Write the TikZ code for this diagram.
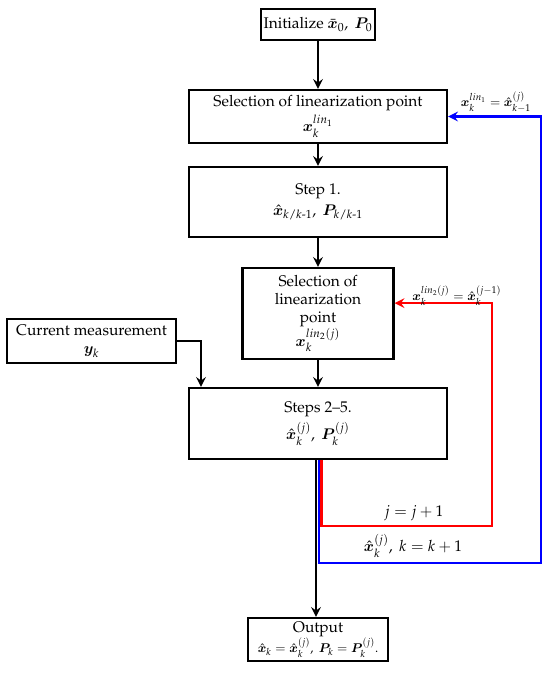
\documentclass[tikz,border=0pt]{standalone}
\usepackage[T1]{fontenc}
\usepackage{amsmath,bm}
\usepackage{mathpazo}
\usepackage{tikz}
\usetikzlibrary{arrows.meta,calc}

\begin{document}
\begin{tikzpicture}[x=0.025cm,y=-0.025cm,>={Stealth[length=7pt,width=7pt,inset=2.5pt]},
  font={\fontsize{11}{13}\selectfont},
  box/.style={draw,line width=1.6pt,align=center,inner sep=1pt},
  flow/.style={->,line width=1.3pt},
  redloop/.style={->,red,line width=1.8pt},
  blueloop/.style={->,blue,line width=1.8pt}]
\useasboundingbox (0,0) rectangle (550,680);
% main column
\node[box,minimum width=2.85cm,minimum height=0.775cm] (init) at (318,24.5) {Initialize $\bar{\bm x}_0,\ \bm P_0$};
\node[box,minimum width=6.45cm,minimum height=1.325cm] (selone) at (318,116.5) {Selection of linearization point\\[2pt] $\bm x_k^{lin_1}$};
\node[box,minimum width=6.45cm,minimum height=1.75cm] (stepone) at (318,202) {Step 1.\\[2pt] $\hat{\bm x}_{k/k\text{-}1},\ \bm P_{k/k\text{-}1}$};
\node[box,minimum width=3.775cm,minimum height=2.275cm] (seltwo) at (318,313.5) {Selection of\\ linearization\\ point\\ $\bm x_k^{lin_2(j)}$};
\node[box,minimum width=6.45cm,minimum height=1.775cm] (steps) at (318,423.5) {Steps 2--5.\\[3pt] $\hat{\bm x}_k^{(j)},\ \bm P_k^{(j)}$};
\node[box,minimum width=3.5cm,minimum height=1.075cm] (output) at (318,639.5) {Output\\ \small$\hat{\bm x}_k = \hat{\bm x}_k^{(j)},\ \bm P_k = \bm P_k^{(j)}.$};
% measurement input
\node[box,minimum width=4.225cm,minimum height=1.1cm] (meas) at (91.5,341) {Current measurement\\ $\bm y_k$};
\coordinate (mbend) at (201,341);
% straight connectors
\draw[flow] (init) -- (selone);
\draw[flow] (selone) -- (stepone);
\draw[flow] (stepone) -- (seltwo);
\draw[flow] (seltwo) -- (steps);
\draw[flow] (meas.east) -- (mbend) -- (mbend |- steps.north);
\draw[flow] ([xshift=-0.05cm]steps.south) -- ([xshift=-0.05cm]output.north);
% feedback loops
\coordinate (rcorner) at (492,526);
\coordinate (bcorner) at (541,563);
\draw[redloop] ([xshift=0.09cm]steps.south) |- (rcorner) |- ([yshift=0.26cm]seltwo.east);
\draw[blueloop] ([xshift=0.03cm]steps.south) |- (bcorner) |- (selone.east);
% loop labels
\node[font=\small] (lblone) at (496,102) {$\bm x_k^{lin_1} = \hat{\bm x}_{k-1}^{(j)}$};
\node[font=\small] (lbltwo) at (457,296) {$\bm x_k^{lin_2(j)} = \hat{\bm x}_k^{(j-1)}$};
\node (lblj) at (414,513) {$j = j+1$};
\node (lblk) at (413,546) {$\hat{\bm x}_k^{(j)},\ k = k+1$};
\end{tikzpicture}
\end{document}
